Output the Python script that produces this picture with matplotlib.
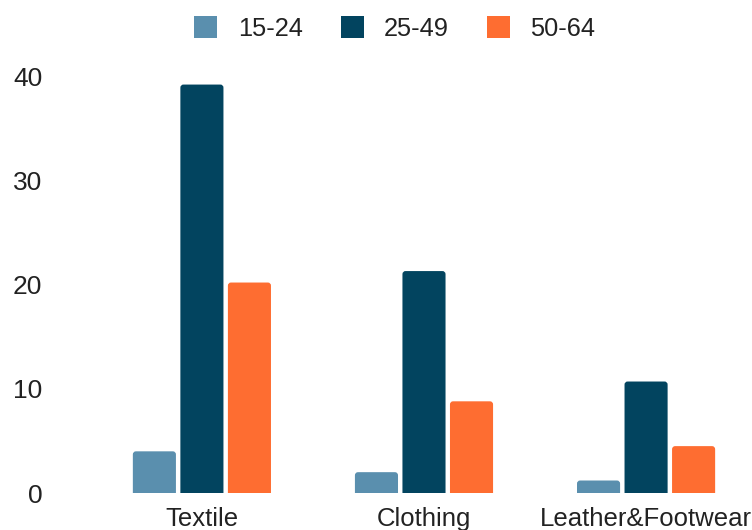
import numpy as np
import matplotlib.pyplot as plt
from matplotlib.patches import FancyBboxPatch, Patch

plt.rcParams['font.family'] = ['Liberation Sans', 'DejaVu Sans']

categories = ['Textile', 'Clothing', 'Leather&Footwear']
age_groups = ['15-24', '25-49', '50-64']
values_15_24 = [4.0, 2.0, 1.2]
values_25_49 = [39.2, 21.3, 10.7]
values_50_64 = [20.2, 8.8, 4.5]
colors = ['#5a8fae', '#02445f', '#fe6d31']

fig = plt.figure(figsize=(7.52, 5.30), dpi=100)
ax = fig.add_axes([0.073, 0.0698, 0.927, 0.8257])

x = np.arange(len(categories))
width = 0.194
step = 0.214
series = [values_15_24, values_25_49, values_50_64]
for i, (vals, col, lab) in enumerate(zip(series, colors, age_groups)):
    bars = ax.bar(x + (i - 1) * step, vals, width, color=col, label=lab)
    # swap the plain rectangles for ones with slightly rounded tops
    for r in bars.patches:
        rx, rw, rh = r.get_x(), r.get_width(), r.get_height()
        ax.add_patch(FancyBboxPatch((rx, -1), rw, rh + 1,
                                    boxstyle='round,pad=0,rounding_size=0.014',
                                    mutation_aspect=21.3, color=col, lw=0))
        r.set_visible(False)

ax.set_xlim(-0.662, 2.477)
ax.set_ylim(0, 42)
ax.set_yticks([0, 10, 20, 30, 40])
ax.set_xticks(x, labels=categories)
for s in ax.spines.values():
    s.set_visible(False)
ax.tick_params(axis='both', length=0, labelcolor='#222222')
ax.tick_params(axis='x', pad=10, labelsize=18.5)
ax.tick_params(axis='y', pad=9, labelsize=19)

handles = [Patch(facecolor=c, edgecolor='none', label=l) for c, l in zip(colors, age_groups)]
fig.legend(handles=handles, loc='center', bbox_to_anchor=(0.525, 0.947), ncol=3,
           frameon=False, fontsize=18.3, handlelength=0.9, handleheight=1.0,
           handletextpad=0.8, columnspacing=1.5, labelcolor='#222222')

fig.savefig('out.png', dpi=100)
